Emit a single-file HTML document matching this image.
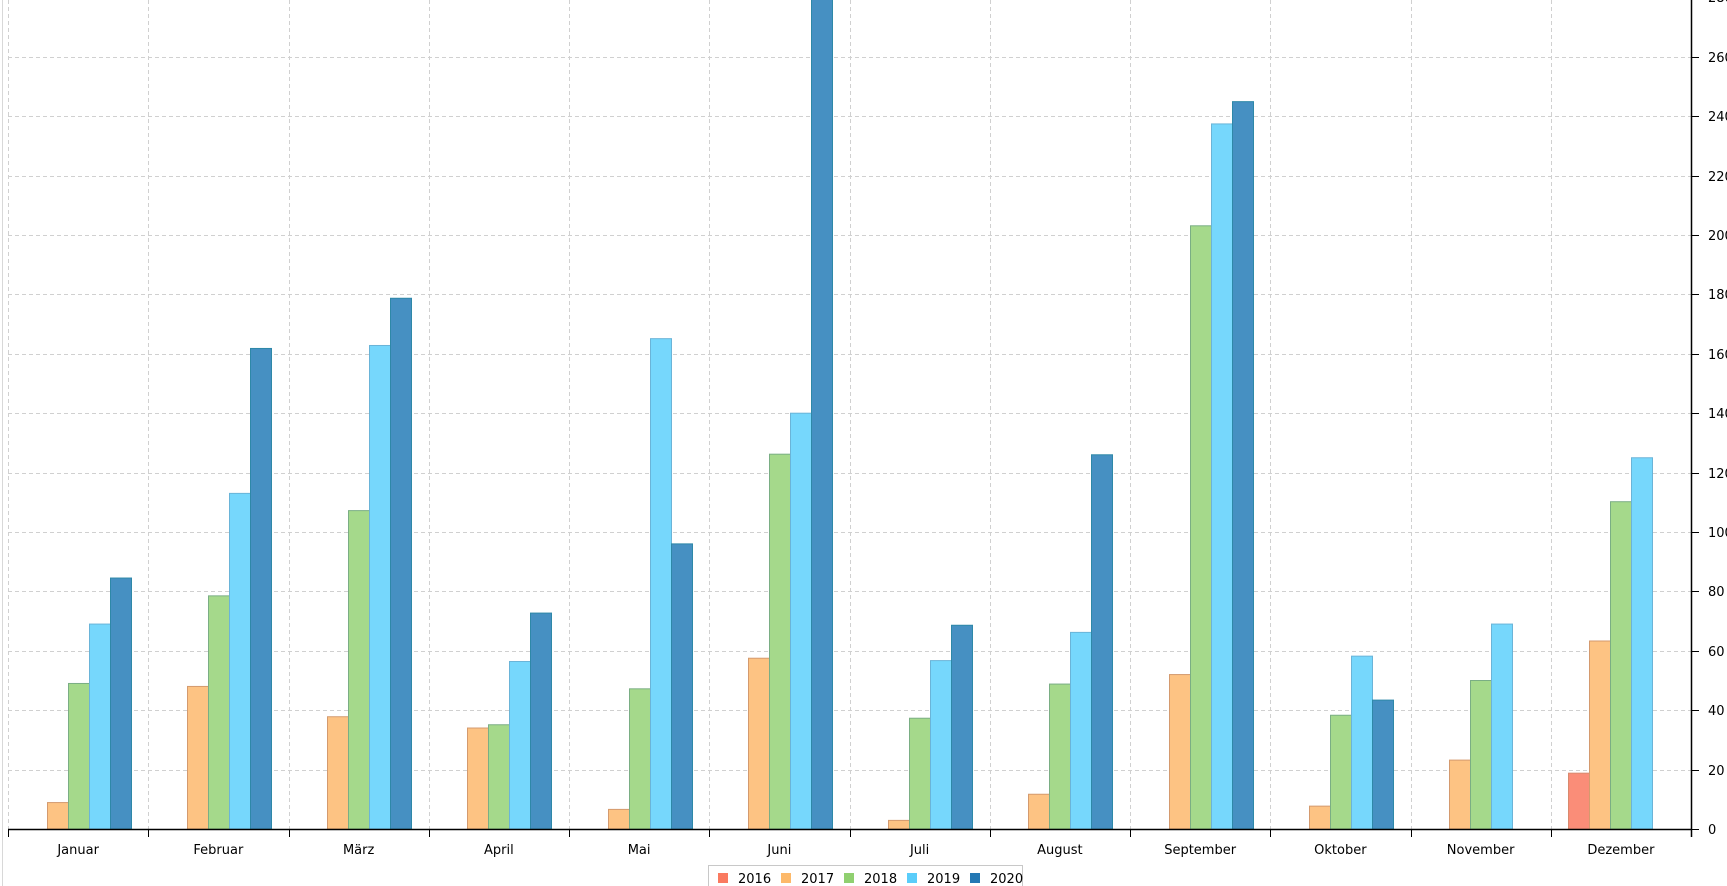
<!DOCTYPE html>
<html><head><meta charset="utf-8"><style>
html,body{margin:0;padding:0;background:#fff;}
svg{display:block;font-family:Tahoma,"DejaVu Sans","Liberation Sans",sans-serif;}
</style></head><body>
<svg id="chart" width="1727" height="886" xmlns="http://www.w3.org/2000/svg">
<line x1="2.5" y1="0" x2="2.5" y2="886" stroke="#d8d8d8"/>
<g id="grid"></g><g id="bars"></g><g id="axes"></g><g id="legend"></g>
</svg>
<script>
const months = ["Januar","Februar","März","April","Mai","Juni","Juli","August","September","Oktober","November","Dezember"];
const years = ["2016","2017","2018","2019","2020"];
const v2016 = [0,0,0,0,0,0,0,0,0,0,0,18.8];
const v2017 = [8.9,48,37.8,34,6.6,57.5,2.9,11.7,52,7.7,23.2,63.3];
const v2018 = [49,78.5,107.2,35.1,47.2,126.2,37.3,48.8,203.1,38.3,50,110.2];
const v2019 = [69,113,162.8,56.4,165.1,140,56.7,66.2,237.4,58.2,69,125];
const v2020 = [84.5,161.8,178.7,72.7,96,290,68.6,126,244.9,43.4,0,0];
const yTicks = [0,20,40,60,80,100,120,140,160,180,200,220,240,260,280];
const series = [v2016,v2017,v2018,v2019,v2020];
const fills = ["#fa8d78","#fdc383","#a5d98b","#76d7fc","#4690c2"];
const strokes = ["#d88a6e","#d49a6e","#7aae84","#6ab4d8","#2e88a8"];
const legendCols = ["#fa7a60","#fdb96a","#90d070","#5acdfa","#2478b4"];
const X0=8, X1=1691, Y0=829, PX=2.97;
const MW=(X1-X0)/months.length, BW=21;
const y = v => Y0 - v*PX;
const ns="http://www.w3.org/2000/svg";
function mk(t,a,p){const e=document.createElementNS(ns,t);for(const k in a)e.setAttribute(k,a[k]);p.appendChild(e);return e;}
const grid=document.getElementById('grid'),bars=document.getElementById('bars'),axes=document.getElementById('axes'),leg=document.getElementById('legend');
yTicks.forEach(t=>{
  const yy=Math.round(y(t))+0.5;
  const g=mk('line',{x1:X0,x2:X1,y1:yy,y2:yy,stroke:'#d0d0d0','stroke-dasharray':'4,3'},grid);
  
  
  const tk=mk('line',{x1:X1,x2:X1+8,y1:yy,y2:yy,stroke:'#000'},axes);
  
  
  const tx=mk('text',{x:X1+17,y:yy+4.5,'font-size':13,fill:'#000'},axes);
  tx.textContent=t;
  
  
});
for(let i=0;i<=months.length;i++){
  const xx=Math.round(X0+i*MW)+0.5;
  if(i<months.length){
    const g=mk('line',{x1:xx,x2:xx,y1:0,y2:Y0,stroke:'#d0d0d0','stroke-dasharray':'4,3'},grid);
    
    
  }
  const tk=mk('line',{x1:xx,x2:xx,y1:Y0,y2:Y0+8,stroke:'#000'},axes);
  
  
}
months.forEach((m,i)=>{
  const tx=mk('text',{x:X0+(i+0.5)*MW,y:854,'font-size':13,'text-anchor':'middle',fill:'#000'},axes);
  tx.textContent=m;
  
  
  series.forEach((s,k)=>{
    const v=s[i]; if(!v) return;
    const bx=Math.round(X0+i*MW+(MW-BW*5)/2+k*BW)+0.5;
    const top=Math.max(y(v),-2);
    const r=mk('rect',{x:bx,y:top,width:BW,height:Y0-top,fill:fills[k],stroke:strokes[k],'stroke-width':1},bars);
    
    
  });
});
const ax=mk('line',{x1:X0,x2:X1,y1:Y0+0.5,y2:Y0+0.5,stroke:'#000','stroke-width':1.5},axes);


const ay=mk('line',{x1:X1+0.5,x2:X1+0.5,y1:0,y2:Y0+8,stroke:'#000','stroke-width':1.5},axes);


const lb=mk('rect',{x:708.5,y:865.5,width:314,height:30,fill:'#fff',stroke:'#c8c8c8'},leg);


years.forEach((yr,k)=>{
  const lx=718+k*63;
  const sq=mk('rect',{x:lx,y:873,width:10,height:10,fill:legendCols[k]},leg);
  
  
  const t=mk('text',{x:lx+20,y:883,'font-size':13,fill:'#000'},leg);
  t.textContent=yr;
  
  
});
</script>
</body></html>
